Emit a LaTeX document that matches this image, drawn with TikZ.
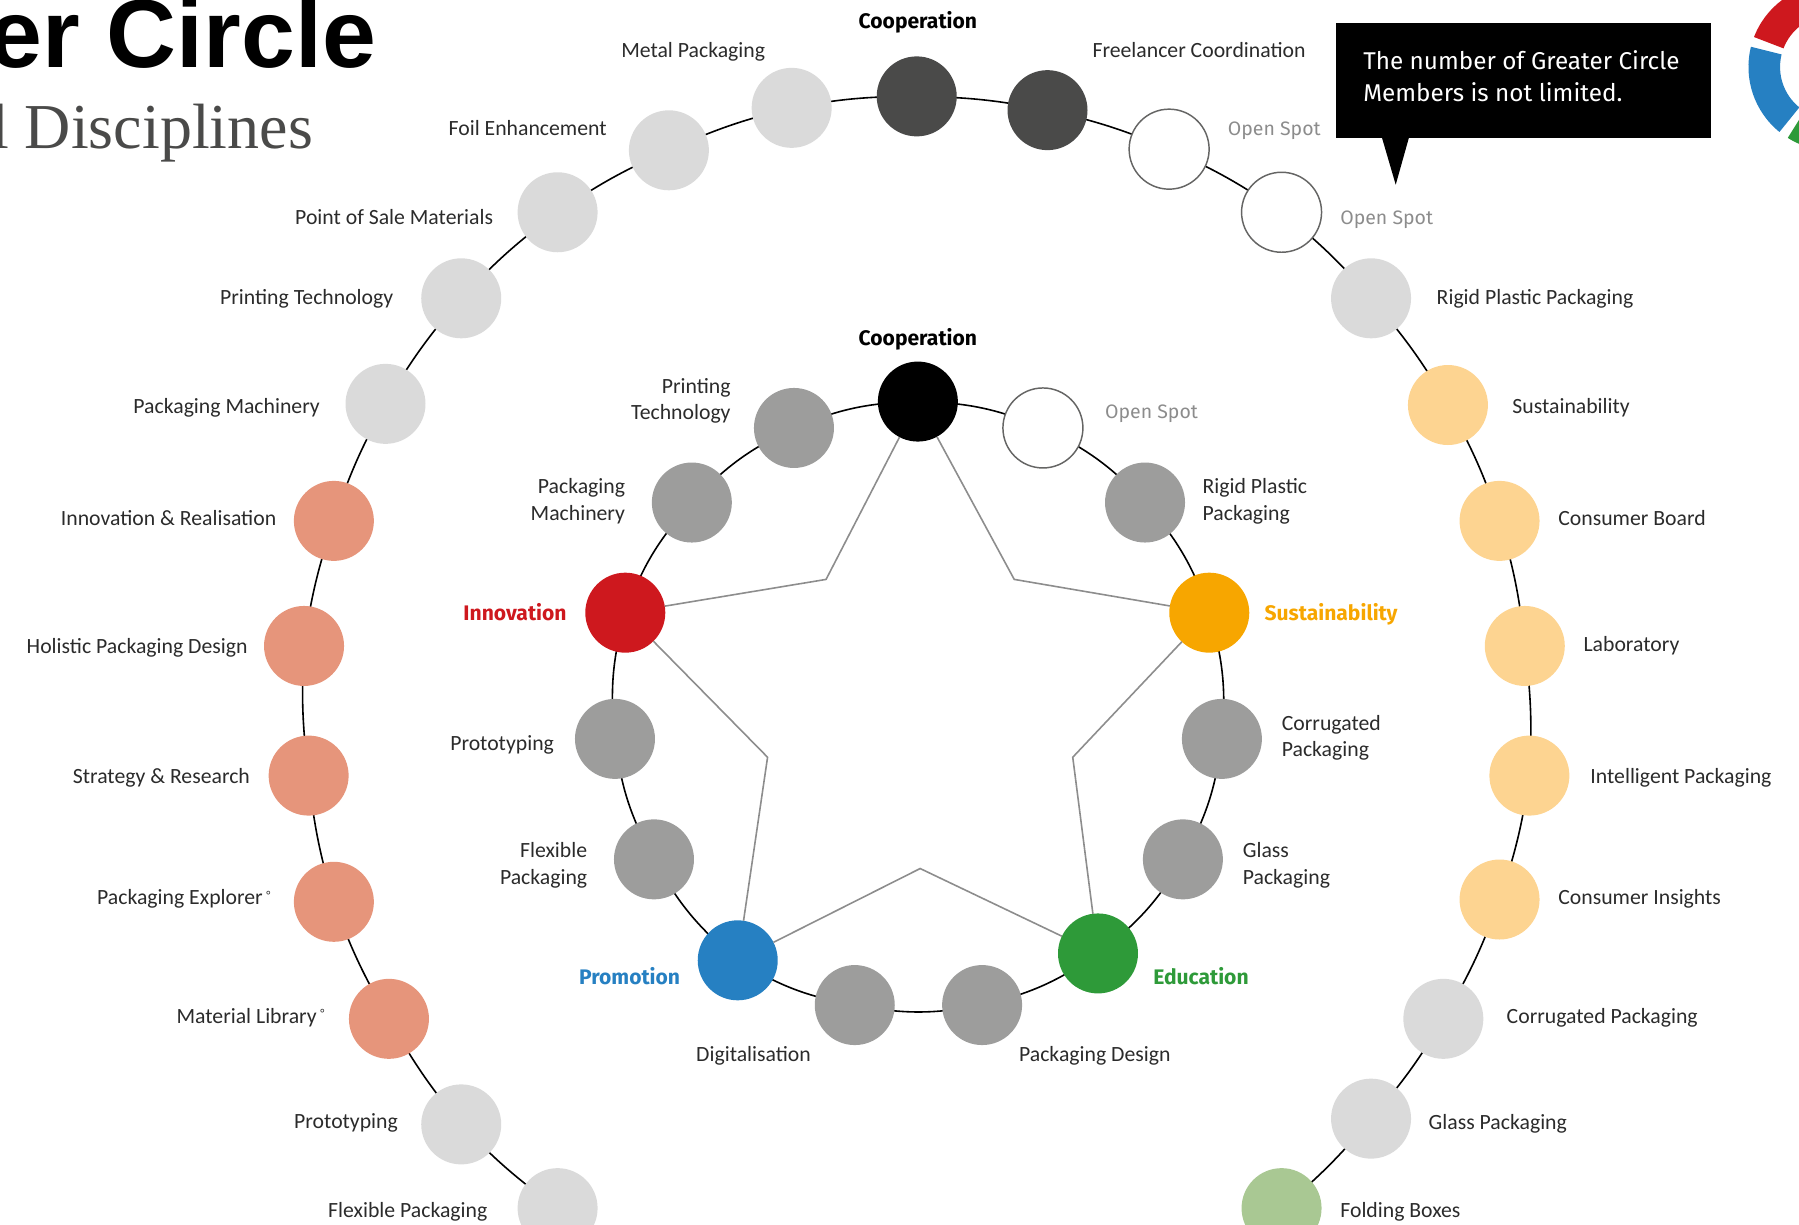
\documentclass[tikz,border=0pt]{standalone}
\usepackage{fontspec}
\usetikzlibrary{backgrounds}
\setmainfont{Carlito}
\newfontfamily\uifont{Fira Sans}
\newfontfamily\titlefont{Liberation Sans}
\newfontfamily\subfont{Liberation Serif}
\definecolor{cLight}{HTML}{DADADA}
\definecolor{cMid}{HTML}{9D9D9C}
\definecolor{cDark}{HTML}{4A4A49}
\definecolor{cSalmon}{HTML}{E6957B}
\definecolor{cPeach}{HTML}{FDD491}
\definecolor{cSage}{HTML}{A9C893}
\definecolor{cRed}{HTML}{CE181E}
\definecolor{cOrange}{HTML}{F7A600}
\definecolor{cBlue}{HTML}{2680C2}
\definecolor{cGreen}{HTML}{2E9A39}
\definecolor{cText}{HTML}{2B2B2B}
\definecolor{cSpot}{HTML}{8C8C8C}
\tikzset{
  dot/.style={circle,minimum size=60pt,inner sep=0pt,outer sep=0pt,fill=#1},
  spot/.style={circle,minimum size=60pt,inner sep=0pt,outer sep=0pt,fill=white,draw=cDark!85,line width=1.1pt},
  lab/.style={font=\fontsize{16.3}{20}\selectfont,text=cText,inner sep=0pt,align=#1},
  lr/.style={lab=right,anchor=mid east},
  ll/.style={lab=left,anchor=mid west},
  open/.style={font=\uifont\fontsize{14.6}{18}\selectfont,text=cSpot,inner sep=0pt,anchor=mid west},
  head/.style={font=\uifont\bfseries\fontsize{15.8}{18}\selectfont,text=#1,inner sep=0pt},
  ring/.style={line width=1.2pt,black},
  orbit/.style={ring,bend left=5.2},
  inorbit/.style={ring,bend left=10.7},
  starline/.style={line width=1.2pt,cMid!90!black},
}
\begin{document}
\begin{tikzpicture}[x=0.8605pt,y=-0.8605pt]
\useasboundingbox (0,0) rectangle (1568,1067.7);
% title
\node[anchor=base east,inner sep=0pt,font=\titlefont\bfseries\fontsize{72.6}{72}\selectfont] (title) at (328,58.4) {er Circle};
\node[anchor=base east,inner sep=0pt,text=cDark,font=\subfont\fontsize{48}{48}\selectfont] (subtitle) at (273,129) {l Disciplines};
% outer ring
\node[dot=cLight] (o1) at (486,1053) {};
\node[dot=cLight] (o2) at (402,980) {};
\node[dot=cSalmon] (o3) at (339,888) {};
\node[dot=cSalmon] (o4) at (291,786) {};
\node[dot=cSalmon] (o5) at (269,676) {};
\node[dot=cSalmon] (o6) at (265,563) {};
\node[dot=cSalmon] (o7) at (291,454) {};
\node[dot=cLight] (o8) at (336,352) {};
\node[dot=cLight] (o9) at (402,260) {};
\node[dot=cLight] (o10) at (486,185) {};
\node[dot=cLight] (o11) at (583,131) {};
\node[dot=cLight] (o12) at (690,94) {};
\node[dot=cDark] (o13) at (799,84) {};
\node[dot=cDark] (o14) at (913,96) {};
\node[spot] (o15) at (1019,130) {};
\node[spot] (o16) at (1117,185) {};
\node[dot=cLight] (o17) at (1195,260) {};
\node[dot=cPeach] (o18) at (1262,353) {};
\node[dot=cPeach] (o19) at (1307,454) {};
\node[dot=cPeach] (o20) at (1329,563) {};
\node[dot=cPeach] (o21) at (1333,676) {};
\node[dot=cPeach] (o22) at (1307,784) {};
\node[dot=cLight] (o23) at (1258,888) {};
\node[dot=cLight] (o24) at (1195,975) {};
\node[dot=cSage] (o25) at (1117,1053) {};
% inner ring
\node[dot=black] (i1) at (800,350) {};
\node[spot] (i2) at (909,373) {};
\node[dot=cMid] (i3) at (998,438) {};
\node[dot=cOrange] (i4) at (1054,534) {};
\node[dot=cMid] (i5) at (1065,644) {};
\node[dot=cMid] (i6) at (1031,749) {};
\node[dot=cGreen] (i7) at (957,831) {};
\node[dot=cMid] (i8) at (856,876) {};
\node[dot=cMid] (i9) at (745,876) {};
\node[dot=cBlue] (i10) at (643,837) {};
\node[dot=cMid] (i11) at (570,749) {};
\node[dot=cMid] (i12) at (536,644) {};
\node[dot=cRed] (i13) at (545,534) {};
\node[dot=cMid] (i14) at (603,438) {};
\node[dot=cMid] (i15) at (692,373) {};
\begin{pgfonlayer}{background}
\foreach \a/\b in {1/2,2/3,3/4,4/5,5/6,6/7,7/8,8/9,9/10,10/11,11/12,12/13,13/14,14/15,15/16,16/17,17/18,18/19,19/20,20/21,21/22,22/23,23/24,24/25}
  \draw[orbit] (o\a.center) to (o\b.center);
\foreach \a/\b in {1/2,2/3,3/4,4/5,5/6,6/7,7/8,8/9,9/10,10/11,11/12,12/13,13/14,14/15,15/1}
  \draw[inorbit] (i\a.center) to (i\b.center);
\end{pgfonlayer}
% star
\coordinate (s1) at (720,505);
\coordinate (s2) at (669,660);
\coordinate (s3) at (802,757);
\coordinate (s4) at (935,660);
\coordinate (s5) at (884,505);
\draw[starline] (i1) -- (s1) -- (i13);
\draw[starline] (i13) -- (s2) -- (i10);
\draw[starline] (i10) -- (s3) -- (i7);
\draw[starline] (i7) -- (s4) -- (i4);
\draw[starline] (i4) -- (s5) -- (i1);
% outer labels
\node[head=black] (lo13) at (800,19) {Cooperation};
\node[lr] (lo12) at (667,47) {Metal Packaging};
\node[lr] (lo11) at (529,115) {Foil Enhancement};
\node[lr] (lo10) at (430,193) {Point of Sale Materials};
\node[lr] (lo9) at (343,263) {Printing Technology};
\node[lr] (lo8) at (279,358) {Packaging Machinery};
\node[lr] (lo7) at (241,455) {Innovation \& Realisation};
\node[lr] (lo6) at (216,567) {Holistic Packaging Design};
\node[lr] (lo5) at (218,680) {Strategy \& Research};
\node[lr] (lo4) at (236,786) {Packaging Explorer\,\raisebox{0.5ex}{\fontsize{9}{9}\selectfont°}};
\node[lr] (lo3) at (283,889) {Material Library\,\raisebox{0.5ex}{\fontsize{9}{9}\selectfont°}};
\node[lr] (lo2) at (347,981) {Prototyping};
\node[lr] (lo1) at (425,1058) {Flexible Packaging};
\node[ll] (lo14) at (952,47) {Freelancer Coordination};
\node[open] (lo15) at (1070,115) {Open Spot};
\node[open] (lo16) at (1168,193) {Open Spot};
\node[ll] (lo17) at (1252,263) {Rigid Plastic Packaging};
\node[ll] (lo18) at (1318,358) {Sustainability};
\node[ll] (lo19) at (1358,455) {Consumer Board};
\node[ll] (lo20) at (1380,565) {Laboratory};
\node[ll] (lo21) at (1386,680) {Intelligent Packaging};
\node[ll] (lo22) at (1358,786) {Consumer Insights};
\node[ll] (lo23) at (1313,889) {Corrugated Packaging};
\node[ll] (lo24) at (1245,982) {Glass Packaging};
\node[ll] (lo25) at (1168,1058) {Folding Boxes};
% inner labels
\node[head=black] (li1) at (800,296) {Cooperation};
\node[open] (li2) at (963,362) {Open Spot};
\node[ll] (li3) at (1048,451) {Rigid Plastic\\Packaging};
\node[head=cOrange,anchor=mid west] (li4) at (1102,538) {Sustainability};
\node[ll] (li5) at (1117,657) {Corrugated\\Packaging};
\node[ll] (li6) at (1083,768) {Glass\\Packaging};
\node[head=cGreen,anchor=mid west] (li7) at (1005,855) {Education};
\node[ll] (li8) at (888,922) {Packaging Design};
\node[lr] (li9) at (707,922) {Digitalisation};
\node[head=cBlue,anchor=mid east] (li10) at (593,855) {Promotion};
\node[lr] (li11) at (512,768) {Flexible\\Packaging};
\node[lr] (li12) at (483,651) {Prototyping};
\node[head=cRed,anchor=mid east] (li13) at (494,538) {Innovation};
\node[lr] (li14) at (545,451) {Packaging\\Machinery};
\node[lr] (li15) at (637,363) {Printing\\Technology};
% callout
\fill[black] (1164.5,20) rectangle (1491,120.3);
\fill[black] (1204.5,120) -- (1228,120) -- (1216.5,161) -- cycle;
\node[anchor=west,inner sep=0pt,text=white,align=left,font=\uifont\fontsize{18.2}{24}\selectfont] (note) at (1188,66.5) {The number of Greater Circle\\Members is not limited.};
% logo
\begin{scope}[shift={(1596.8,58.4)}]
\fill[cBlue] (166:62.7pt) arc[start angle=166,end angle=231,radius=62.7pt] -- (231:39pt) arc[start angle=231,end angle=166,radius=39pt] -- cycle;
\fill[cRed] (94:62.7pt) arc[start angle=94,end angle=159,radius=62.7pt] -- (159:39pt) arc[start angle=159,end angle=94,radius=39pt] -- cycle;
\fill[cGreen] (238:62.7pt) arc[start angle=238,end angle=303,radius=62.7pt] -- (303:39pt) arc[start angle=303,end angle=238,radius=39pt] -- cycle;
\end{scope}
\end{tikzpicture}
\end{document}
